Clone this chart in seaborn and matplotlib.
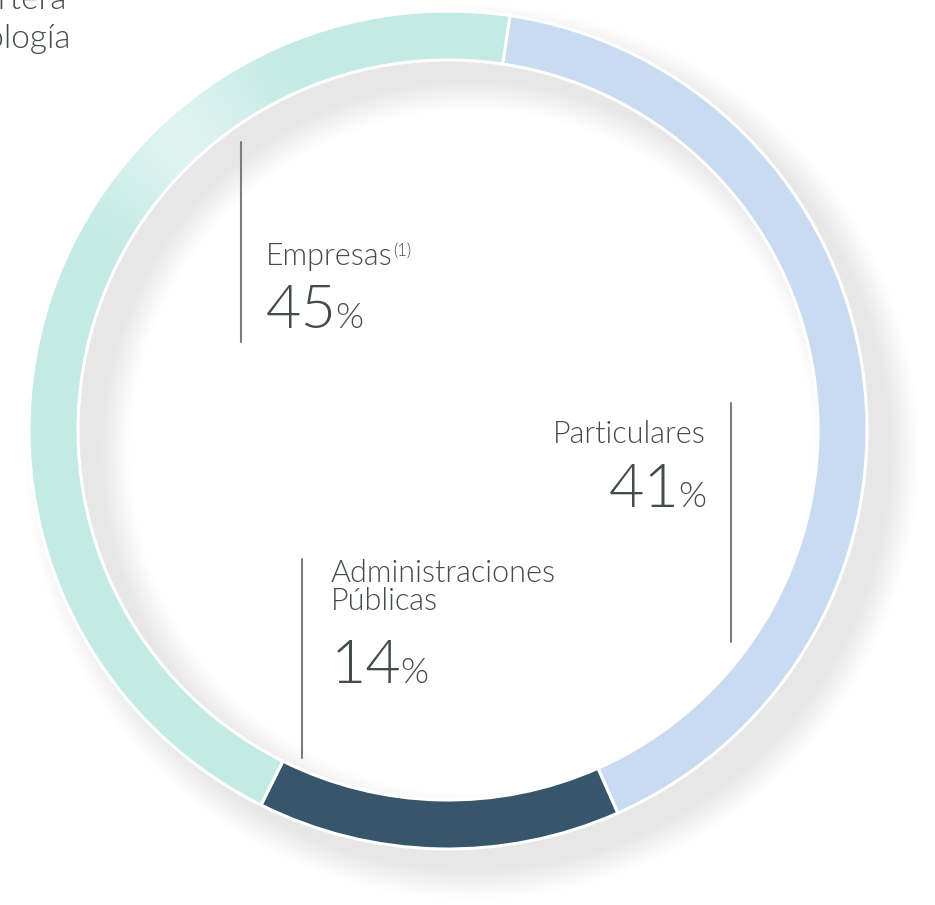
import numpy as np
import matplotlib
matplotlib.use("Agg")
import matplotlib.pyplot as plt
from matplotlib.patches import Wedge
import seaborn as sns

sns.set_theme(style="white")
plt.rcParams['font.family'] = ['Lato', 'DejaVu Sans']

# data
segments = ["Particulares", "Administraciones Públicas", "Empresas"]
shares = [41, 14, 45]
colors = ["#c9dbf1", "#37556b", "#c4eae5"]
title_lines = ["cartera", "tipología"]

W, H = 935, 905
cx, cy = 448, H - 430
R, ring = 419, 49
text_col = "#454b4b"
line_col = "#7b7e7e"
FW = 300

fig = plt.figure(figsize=(W / 100, H / 100), dpi=100)
ax = fig.add_axes([0, 0, 1, 1])

# soft shadow behind the ring
sx, sy = cx + 24, cy - 22
for k in range(12):
    s = 2.5 * k
    ax.add_patch(Wedge((sx, sy), R + s, 0, 360, width=ring + 2 * s,
                       facecolor="black", edgecolor="none", alpha=0.006, zorder=1))

wedges, _ = ax.pie(shares, radius=R, center=(cx, cy), startangle=81.5,
                   counterclock=False, colors=colors,
                   wedgeprops=dict(width=ring, edgecolor="white", linewidth=2.2))
for w in wedges:
    w.set_zorder(2)

# light sheen on the upper-left of the teal band
for th in np.arange(95, 170, 1.0):
    a = 0.45 * np.exp(-((th - 132) / 12.0) ** 2)
    ax.add_patch(Wedge((cx, cy), R - 1, th, th + 1.05, width=ring - 2,
                       facecolor="white", edgecolor="none", alpha=a, zorder=3))

ax.set_xlim(0, W)
ax.set_ylim(0, H)
ax.set_aspect("equal")
ax.axis("off")

renderer = fig.canvas.get_renderer()
big, small = 44, 26


def pct(x, y, num, ha="left"):
    if ha == "left":
        t = ax.text(x, H - y, num, fontsize=big, color=text_col, va="baseline",
                    ha="left", fontweight=FW, zorder=5)
        bb = t.get_window_extent(renderer)
        ax.text(bb.x1 - 2, H - y, "%", fontsize=small, color=text_col, va="baseline",
                ha="left", fontweight=FW, zorder=5)
    else:
        p = ax.text(x, H - y, "%", fontsize=small, color=text_col, va="baseline",
                    ha="right", fontweight=FW, zorder=5)
        bb = p.get_window_extent(renderer)
        ax.text(bb.x0 + 2, H - y, num, fontsize=big, color=text_col, va="baseline",
                ha="right", fontweight=FW, zorder=5)


lab = dict(fontsize=22, color=text_col, va="baseline", fontweight=FW, zorder=5)

# Empresas
ax.plot([241, 241], [H - 142, H - 342], color=line_col, lw=1.5, zorder=5)
e = ax.text(266, H - 265, segments[2], ha="left", **lab)
bb = e.get_window_extent(renderer)
ax.text(bb.x1 + 0.5, H - 256, "(1)", fontsize=12, color=text_col, va="baseline",
        ha="left", fontweight=FW, zorder=5)
pct(266, 328, f"{shares[2]}")

# Particulares
ax.plot([731, 731], [H - 403, H - 642], color=line_col, lw=1.5, zorder=5)
ax.text(706, H - 443, segments[0], ha="right", **lab)
pct(706, 507, f"{shares[0]}", ha="right")

# Administraciones Publicas
ax.plot([302, 302], [H - 559, H - 758], color=line_col, lw=1.5, zorder=5)
name = segments[1].split(" ")
ax.text(331, H - 582, name[0], ha="left", **lab)
ax.text(331, H - 610, name[1], ha="left", **lab)
pct(331, 683, f"{shares[1]}")

# title fragment cut by the left edge
tl = dict(lab, fontsize=24)
ax.text(67, H - 9, title_lines[0], ha="right", **tl)
ax.text(71, H - 48, title_lines[1], ha="right", **tl)

fig.savefig("out.png", dpi=100, facecolor="white")
